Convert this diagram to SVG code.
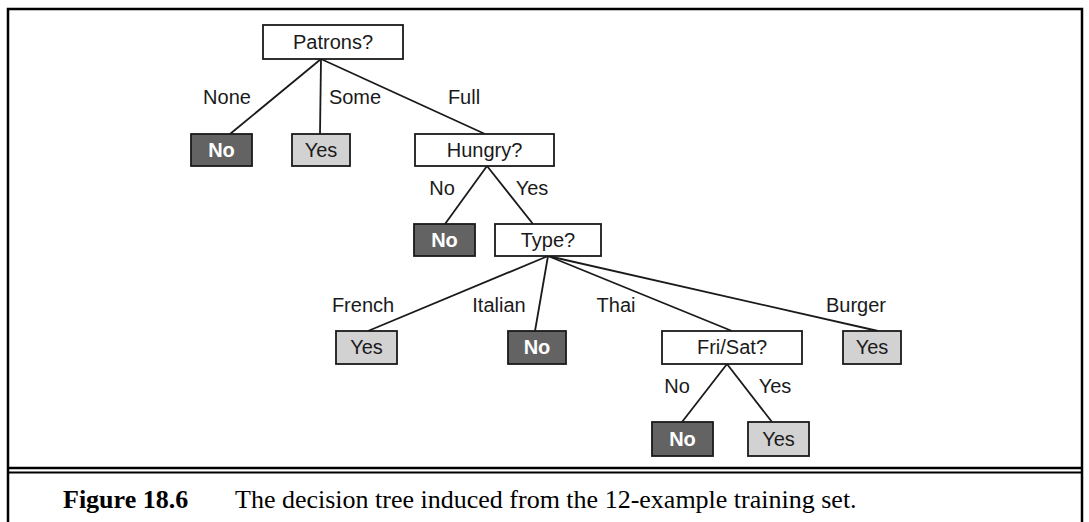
<svg xmlns="http://www.w3.org/2000/svg" width="1089" height="522" viewBox="0 0 1089 522">
<style>
.box{stroke:#1a1a1a;stroke-width:1.8}
.q{fill:#ffffff}
.yes{fill:#d2d2d2}
.no{fill:#636363}
.t{font-family:"Liberation Sans",Arial,sans-serif;font-size:20px;fill:#1a1a1a;text-anchor:middle}
.tn{font-family:"Liberation Sans",Arial,sans-serif;font-size:20px;font-weight:bold;fill:#ffffff;text-anchor:middle}
.lbl{font-family:"Liberation Sans",Arial,sans-serif;font-size:20px;fill:#1a1a1a;text-anchor:middle}
.edge{stroke:#1a1a1a;stroke-width:1.8;fill:none}
.frame{stroke:#000;fill:none}
</style>
<rect width="1089" height="522" fill="#ffffff"/>
<g id="frame">
<path class="frame" stroke-width="2.5" d="M8 522 V9 H1082 V522"/>
<line class="frame" x1="8" y1="468" x2="1082" y2="468" stroke-width="2.5"/>
<line class="frame" x1="8" y1="472.5" x2="1082" y2="472.5" stroke-width="2"/>
</g>
<g id="connectors">
<line class="edge" x1="321" y1="59" x2="230" y2="134"/>
<line class="edge" x1="321" y1="59" x2="320" y2="134"/>
<line class="edge" x1="321" y1="59" x2="485" y2="134"/>
<line class="edge" x1="487" y1="166" x2="445" y2="224"/>
<line class="edge" x1="487" y1="166" x2="533" y2="224"/>
<line class="edge" x1="548" y1="256" x2="368" y2="331"/>
<line class="edge" x1="548" y1="256" x2="535" y2="331"/>
<line class="edge" x1="548" y1="256" x2="732" y2="331"/>
<line class="edge" x1="548" y1="256" x2="878" y2="331"/>
<line class="edge" x1="727" y1="364" x2="682" y2="422"/>
<line class="edge" x1="727" y1="364" x2="772" y2="422"/>
</g>
<g id="edge-labels">
<text class="lbl" x="227" y="104">None</text>
<text class="lbl" x="355" y="104">Some</text>
<text class="lbl" x="464" y="104">Full</text>
<text class="lbl" x="442" y="195">No</text>
<text class="lbl" x="532" y="195">Yes</text>
<text class="lbl" x="363" y="312">French</text>
<text class="lbl" x="499" y="312">Italian</text>
<text class="lbl" x="616" y="312">Thai</text>
<text class="lbl" x="856" y="312">Burger</text>
<text class="lbl" x="677" y="393">No</text>
<text class="lbl" x="775" y="393">Yes</text>
</g>
<g id="patrons"><rect class="box q" x="263" y="25" width="140" height="34"/><text class="t" x="333" y="49">Patrons?</text></g>
<g id="none-no"><rect class="box no" x="191" y="134" width="61" height="32"/><text class="tn" x="221.5" y="157">No</text></g>
<g id="some-yes"><rect class="box yes" x="292" y="134" width="58" height="32"/><text class="t" x="321" y="157">Yes</text></g>
<g id="hungry"><rect class="box q" x="415" y="134" width="139" height="32"/><text class="t" x="484.5" y="157">Hungry?</text></g>
<g id="hungry-no"><rect class="box no" x="414" y="224" width="61" height="32"/><text class="tn" x="444.5" y="247">No</text></g>
<g id="type"><rect class="box q" x="495" y="224" width="106" height="32"/><text class="t" x="548" y="247">Type?</text></g>
<g id="french-yes"><rect class="box yes" x="336" y="331" width="61" height="33"/><text class="t" x="366.5" y="354">Yes</text></g>
<g id="italian-no"><rect class="box no" x="508" y="331" width="58" height="33"/><text class="tn" x="537" y="354">No</text></g>
<g id="frisat"><rect class="box q" x="662" y="331" width="140" height="33"/><text class="t" x="732" y="354">Fri/Sat?</text></g>
<g id="burger-yes"><rect class="box yes" x="843" y="331" width="58" height="33"/><text class="t" x="872" y="354">Yes</text></g>
<g id="frisat-no"><rect class="box no" x="652" y="422" width="61" height="34"/><text class="tn" x="682.5" y="446">No</text></g>
<g id="frisat-yes"><rect class="box yes" x="748" y="422" width="61" height="34"/><text class="t" x="778.5" y="446">Yes</text></g>
<g id="caption">
<text x="63" y="508" font-family="'Liberation Serif','Times New Roman',serif" font-size="26" fill="#000"><tspan font-weight="bold">Figure 18.6</tspan><tspan x="235">The decision tree induced from the 12-example training set.</tspan></text>
</g>
</svg>
